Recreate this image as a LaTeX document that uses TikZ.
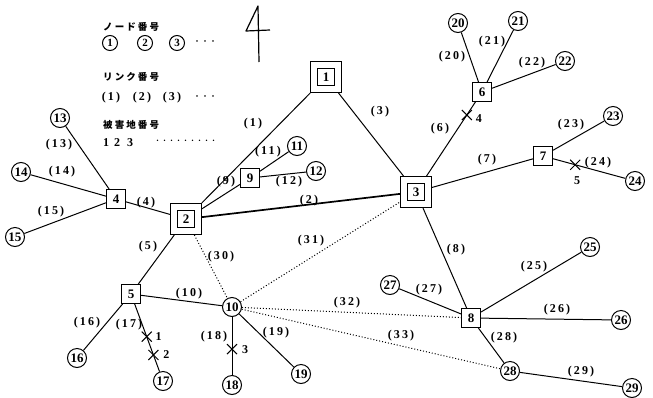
\documentclass[tikz,border=0pt]{standalone}
\usepackage{fontspec}
\setmainfont{Liberation Serif}
\newfontfamily\jp[LetterSpace=22]{Noto Sans CJK JP}
\newfontfamily\jpdot{Noto Sans CJK JP}
\newfontfamily\lab[LetterSpace=18]{Liberation Serif}
\usetikzlibrary{calc}
\begin{document}
\begin{tikzpicture}[x=1pt,y=-1pt,
  cn/.style={circle,draw,line width=1pt,minimum size=19pt,inner sep=0pt,font=\bfseries\fontsize{13}{13}\selectfont},
  lc/.style={circle,draw,line width=1pt,minimum size=15pt,inner sep=0pt,font=\bfseries\fontsize{11}{11}\selectfont},
  sq/.style={rectangle,draw,line width=1pt,minimum size=19pt,inner sep=0pt,font=\bfseries\fontsize{13}{13}\selectfont},
  dsq/.style={rectangle,draw,line width=1pt,double,double distance=6pt,minimum size=24pt,inner sep=0pt,outer sep=4pt,font=\bfseries\fontsize{13}{13}\selectfont},
  ln/.style={line width=1pt},
  thk/.style={line width=1.7pt},
  dl/.style={dotted,line width=1pt},
  el/.style={inner sep=0pt,font=\lab\bfseries\fontsize{12}{12}\selectfont},
  jt/.style={inner sep=0pt,anchor=west,font=\jp\bfseries\fontsize{9.5}{9.5}\selectfont},
  cl/.style={inner sep=0pt,font=\bfseries\fontsize{12}{12}\selectfont},
  crs/.style={line width=1pt}
]
\useasboundingbox (0,0) rectangle (653,397);
\fill[white] (0,0) rectangle (653,397);

% legend
\node[jt] (t1) at (103,27) {ノード番号};
\node[lc] (c1) at (110,43) {1};
\node[lc] (c2) at (145,43) {2};
\node[lc] (c3) at (177,43) {3};
\node[inner sep=0pt,font=\jpdot\fontsize{8}{8}\selectfont] (d1) at (205,43) {・・・};
\node[jt] (t2) at (103,77) {リンク番号};
\node[el] (t3a) at (111,98) {(1)};
\node[el] (t3b) at (142,98) {(2)};
\node[el] (t3c) at (172,98) {(3)};
\node[inner sep=0pt,font=\jpdot\fontsize{8}{8}\selectfont] (d2) at (205,98) {・・・};
\node[jt] (t4) at (103,125) {被害地番号};
\node[cl] (t5a) at (106,143) {1};
\node[cl] (t5b) at (117,143) {2};
\node[cl] (t5c) at (130,143) {3};
\node[inner sep=0pt,anchor=west,font=\jpdot\fontsize{7}{7}\selectfont] (d3) at (154,142) {・・・・・・・・・};

% handwritten 4
\draw[line width=1.2pt,line join=round] (259,62) -- (258,6) -- (246,31) -- (270,30);

% nodes
\node[dsq] (n1) at (326,77) {1};
\node[dsq] (n2) at (186,219) {2};
\node[dsq] (n3) at (416,192) {3};
\node[sq] (n4) at (116,199) {4};
\node[sq] (n5) at (131,294) {5};
\node[sq] (n6) at (482,92) {6};
\node[sq] (n7) at (543,156) {7};
\node[sq] (n8) at (471,318) {8};
\node[sq] (n9) at (250,178) {9};
\node[cn] (n10) at (232,307) {10};
\node[cn] (n11) at (297,146) {11};
\node[cn] (n12) at (316,171) {12};
\node[cn] (n13) at (60,118) {13};
\node[cn] (n14) at (21,172) {14};
\node[cn] (n15) at (15,237) {15};
\node[cn] (n16) at (77,358) {16};
\node[cn] (n17) at (163,381) {17};
\node[cn] (n18) at (232,385) {18};
\node[cn] (n19) at (301,374) {19};
\node[cn] (n20) at (458,23) {20};
\node[cn] (n21) at (518,21) {21};
\node[cn] (n22) at (565,61) {22};
\node[cn] (n23) at (613,116) {23};
\node[cn] (n24) at (635,181) {24};
\node[cn] (n25) at (590,247) {25};
\node[cn] (n26) at (621,320) {26};
\node[cn] (n27) at (390,285) {27};
\node[cn] (n28) at (510,371) {28};
\node[cn] (n29) at (632,388) {29};

% links
\draw[ln] (n1) -- (n2);
\draw[thk] (n2) -- (n3);
\draw[ln] (n1) -- (n3);
\draw[ln] (n2) -- (n4);
\draw[ln] (n2) -- (n5);
\draw[ln] (n3) -- (n6);
\draw[ln] (n3) -- (n7);
\draw[ln] (n3) -- (n8);
\draw[ln] (n2) -- (n9);
\draw[ln] (n5) -- (n10);
\draw[ln] (n9) -- (n11);
\draw[ln] (n9) -- (n12);
\draw[ln] (n4) -- (n13);
\draw[ln] (n4) -- (n14);
\draw[ln] (n4) -- (n15);
\draw[ln] (n5) -- (n16);
\draw[ln] (n5) -- (n17);
\draw[ln] (n10) -- (n18);
\draw[ln] (n10) -- (n19);
\draw[ln] (n6) -- (n20);
\draw[ln] (n6) -- (n21);
\draw[ln] (n6) -- (n22);
\draw[ln] (n7) -- (n23);
\draw[ln] (n7) -- (n24);
\draw[ln] (n8) -- (n25);
\draw[ln] (n8) -- (n26);
\draw[ln] (n8) -- (n27);
\draw[ln] (n8) -- (n28);
\draw[ln] (n28) -- (n29);
\draw[dl] (n2) -- (n10);
\draw[dl] (n10) -- (n3);
\draw[dl] (n10) -- (n8);
\draw[dl] (n10) -- (n28);

% link labels
\node[el] (l1) at (253,124) {(1)};
\node[el] (l2) at (309,201) {(2)};
\node[el] (l3) at (380,112) {(3)};
\node[el] (l4) at (146,203) {(4)};
\node[el] (l5) at (148,247) {(5)};
\node[el] (l6) at (440,129) {(6)};
\node[el] (l7) at (487,160) {(7)};
\node[el] (l8) at (456,250) {(8)};
\node[el] (l9) at (226,182) {(9)};
\node[el] (l10) at (189,294) {(10)};
\node[el] (l11) at (268,152) {(11)};
\node[el] (l12) at (289,182) {(12)};
\node[el] (l13) at (59,145) {(13)};
\node[el] (l14) at (62,172) {(14)};
\node[el] (l15) at (51,212) {(15)};
\node[el] (l16) at (87,323) {(16)};
\node[el] (l17) at (129,325) {(17)};
\node[el] (l18) at (214,337) {(18)};
\node[el] (l19) at (276,333) {(19)};
\node[el] (l20) at (452,57) {(20)};
\node[el] (l21) at (492,42) {(21)};
\node[el] (l22) at (532,63) {(22)};
\node[el] (l23) at (571,125) {(23)};
\node[el] (l24) at (598,163) {(24)};
\node[el] (l25) at (534,267) {(25)};
\node[el] (l26) at (557,310) {(26)};
\node[el] (l27) at (429,290) {(27)};
\node[el] (l28) at (504,338) {(28)};
\node[el] (l29) at (581,372) {(29)};
\node[el] (l30) at (221,257) {(30)};
\node[el] (l31) at (311,241) {(31)};
\node[el] (l32) at (347,303) {(32)};
\node[el] (l33) at (401,336) {(33)};

% damage sites
\coordinate (x1) at ($(n5)!0.49!(n17)$);
\coordinate (x2) at ($(n5)!0.70!(n17)$);
\coordinate (x3) at ($(n10)!0.54!(n18)$);
\coordinate (x4) at ($(n3)!0.77!(n6)$);
\coordinate (x5) at ($(n7)!0.35!(n24)$);
\foreach \c in {x1,x2,x3,x4,x5}{
  \draw[crs] ($(\c)+(-5,-5)$) -- ($(\c)+(5,5)$);
  \draw[crs] ($(\c)+(-5,5)$) -- ($(\c)+(5,-5)$);
}
\node[cl] (k1) at ($(x1)+(12,0)$) {1};
\node[cl] (k2) at ($(x2)+(13,0)$) {2};
\node[cl] (k3) at ($(x3)+(13,0)$) {3};
\node[cl] (k4) at ($(x4)+(12,4)$) {4};
\node[cl] (k5) at ($(x5)+(2,16)$) {5};
\end{tikzpicture}
\end{document}
